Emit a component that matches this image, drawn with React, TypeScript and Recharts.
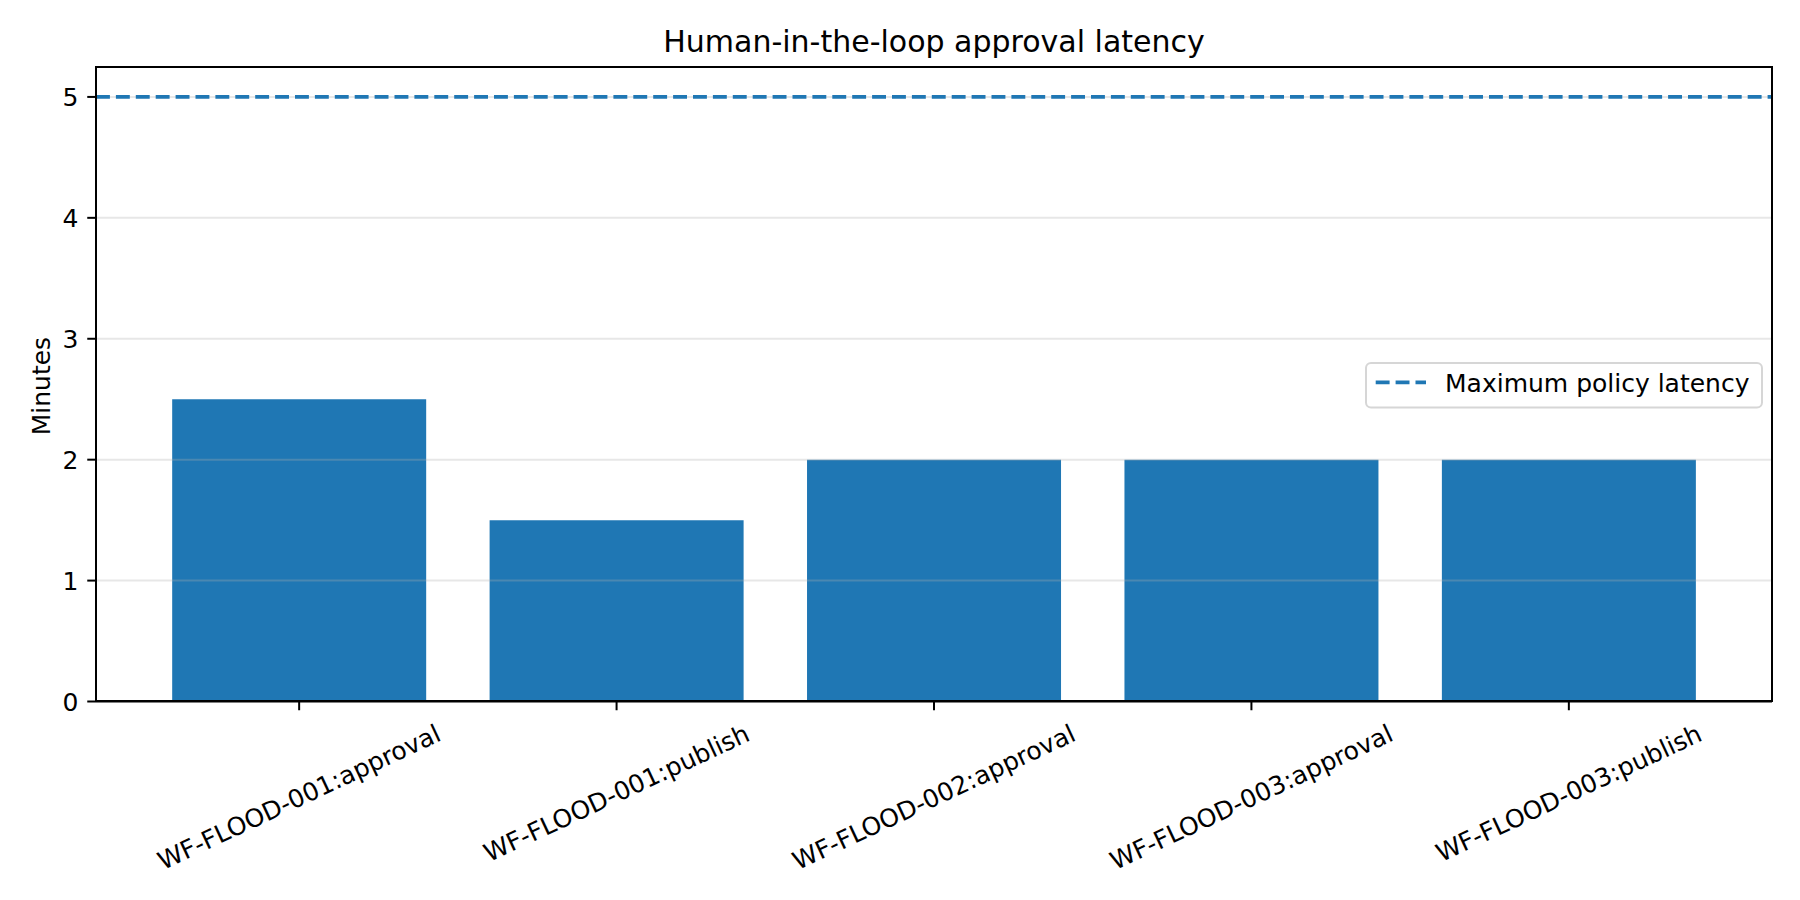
import React from "react";
import { BarChart, Bar, XAxis, YAxis, ReferenceLine, Legend } from "recharts";

// ---- data ----
const categories = [
  "WF-FLOOD-001:approval",
  "WF-FLOOD-001:publish",
  "WF-FLOOD-002:approval",
  "WF-FLOOD-003:approval",
  "WF-FLOOD-003:publish",
];
const latencies = [2.5, 1.5, 2, 2, 2];
const yTicks = [0, 1, 2, 3, 4, 5];
const gridTicks = [1, 2, 3, 4, 5];
const policyLimit = 5;
const yMax = 5.25;
const chartTitle = "Human-in-the-loop approval latency";
const yLabel = "Minutes";
const legendLabel = "Maximum policy latency";

const data = categories.map((name, i) => ({ name, value: latencies[i] }));

// ---- style ----
const FONT = "'DejaVu Sans', 'Liberation Sans', sans-serif";
const FS = 25;
const BLUE = "#1f77b4";
const PLOT_LEFT = 96;
const PLOT_RIGHT = 1772;
const PLOT_TOP = 66.7;
const PLOT_BOTTOM = 701.5;
const UNIT = (PLOT_RIGHT - PLOT_LEFT) / 5.28;
const PAD = 0.14 * UNIT;
const ROT = 25;

let ctx: CanvasRenderingContext2D | null = null;
function measure(text: string): number {
  try {
    if (!ctx) ctx = document.createElement("canvas").getContext("2d");
    if (ctx) {
      ctx.font = `${FS}px 'DejaVu Sans'`;
      return ctx.measureText(text).width;
    }
  } catch (e) {}
  return text.length * FS * 0.6;
}

const XTick = (props: any) => {
  const { x, y, payload } = props;
  const text = String(payload.value);
  const w = measure(text);
  const h = FS * 1.164;
  const a = (ROT * Math.PI) / 180;
  const bh = w * Math.sin(a) + h * Math.cos(a);
  const cy = y + bh / 2;
  return (
    <text
      x={x}
      y={cy}
      textAnchor="middle"
      dominantBaseline="central"
      transform={`rotate(-${ROT} ${x} ${cy})`}
      fontFamily={FONT}
      fontSize={FS}
      fill="#000"
    >
      {text}
    </text>
  );
};

const YTick = (props: any) => {
  const { x, y, payload } = props;
  return (
    <text x={x} y={y} dy="0.364em" textAnchor="end" fontFamily={FONT} fontSize={FS} fill="#000">
      {payload.value}
    </text>
  );
};

const YLabel = () => {
  const cx = 50;
  const cy = (PLOT_TOP + PLOT_BOTTOM) / 2 + 2;
  return (
    <text
      x={cx}
      y={cy}
      textAnchor="middle"
      transform={`rotate(-90 ${cx} ${cy})`}
      fontFamily={FONT}
      fontSize={FS}
      fill="#000"
    >
      {yLabel}
    </text>
  );
};

const LegendBox = () => (
  <svg width={400} height={50} style={{ overflow: "visible", display: "block" }}>
    <rect x={1} y={1} width={396} height={44.4} rx={5} ry={5} fill="#fff" fillOpacity={0.8} stroke="#d6d6d6" strokeWidth={2} />
    <line x1={10.7} x2={61} y1={20.4} y2={20.4} stroke={BLUE} strokeWidth={3.75} strokeDasharray="13.9 6" />
    <text x={80} y={30.4} fontFamily={FONT} fontSize={FS} fill="#000">
      {legendLabel}
    </text>
  </svg>
);

export default function App() {
  return (
    <div style={{ position: "absolute", left: 0, top: 0, width: 1800, height: 900, background: "#fff" }}>
      <div
        style={{
          position: "absolute",
          left: (PLOT_LEFT + PLOT_RIGHT) / 2 - 500,
          width: 1000,
          top: 26.9,
          lineHeight: "30px",
          fontSize: 30,
          fontFamily: FONT,
          textAlign: "center",
          color: "#000",
          whiteSpace: "nowrap",
        }}
      >
        {chartTitle}
      </div>
      <BarChart
        width={1800}
        height={900}
        data={data}
        margin={{ top: PLOT_TOP, right: 1800 - PLOT_RIGHT, bottom: 0, left: 0 }}
        barCategoryGap="10%"
      >
        <XAxis
          dataKey="name"
          height={900 - PLOT_BOTTOM}
          padding={{ left: PAD, right: PAD }}
          tickSize={8.75}
          tickMargin={8.75}
          tickLine={{ stroke: "#000", strokeWidth: 2 }}
          axisLine={{ stroke: "#000", strokeWidth: 2 }}
          tick={<XTick />}
          interval={0}
        />
        <YAxis
          width={PLOT_LEFT}
          domain={[0, yMax]}
          ticks={yTicks}
          allowDataOverflow
          tickSize={8.75}
          tickMargin={8.75}
          tickLine={{ stroke: "#000", strokeWidth: 2 }}
          axisLine={{ stroke: "#000", strokeWidth: 2 }}
          tick={<YTick />}
          label={<YLabel />}
        />
        <Bar dataKey="value" fill={BLUE} isAnimationActive={false} name={legendLabel} />
        {gridTicks.map((t) => (
          <ReferenceLine key={t} y={t} stroke="#b0b0b0" strokeOpacity={0.3} strokeWidth={2} />
        ))}
        <ReferenceLine y={policyLimit} stroke={BLUE} strokeWidth={3.75} strokeDasharray="13.9 6" />
        <Legend
          layout="horizontal"
          verticalAlign="middle"
          align="center"
          content={<LegendBox />}
          wrapperStyle={{ position: "absolute", left: 1365, top: 362.3, width: 400, height: 50, right: "auto", bottom: "auto" }}
        />
      </BarChart>
      <div
        style={{
          position: "absolute",
          left: PLOT_LEFT - 1,
          top: PLOT_TOP - 1,
          width: PLOT_RIGHT - PLOT_LEFT + 2,
          height: PLOT_BOTTOM - PLOT_TOP + 1 + 0.1,
          border: "2px solid #000",
          boxSizing: "border-box",
          pointerEvents: "none",
        }}
      />
    </div>
  );
}
